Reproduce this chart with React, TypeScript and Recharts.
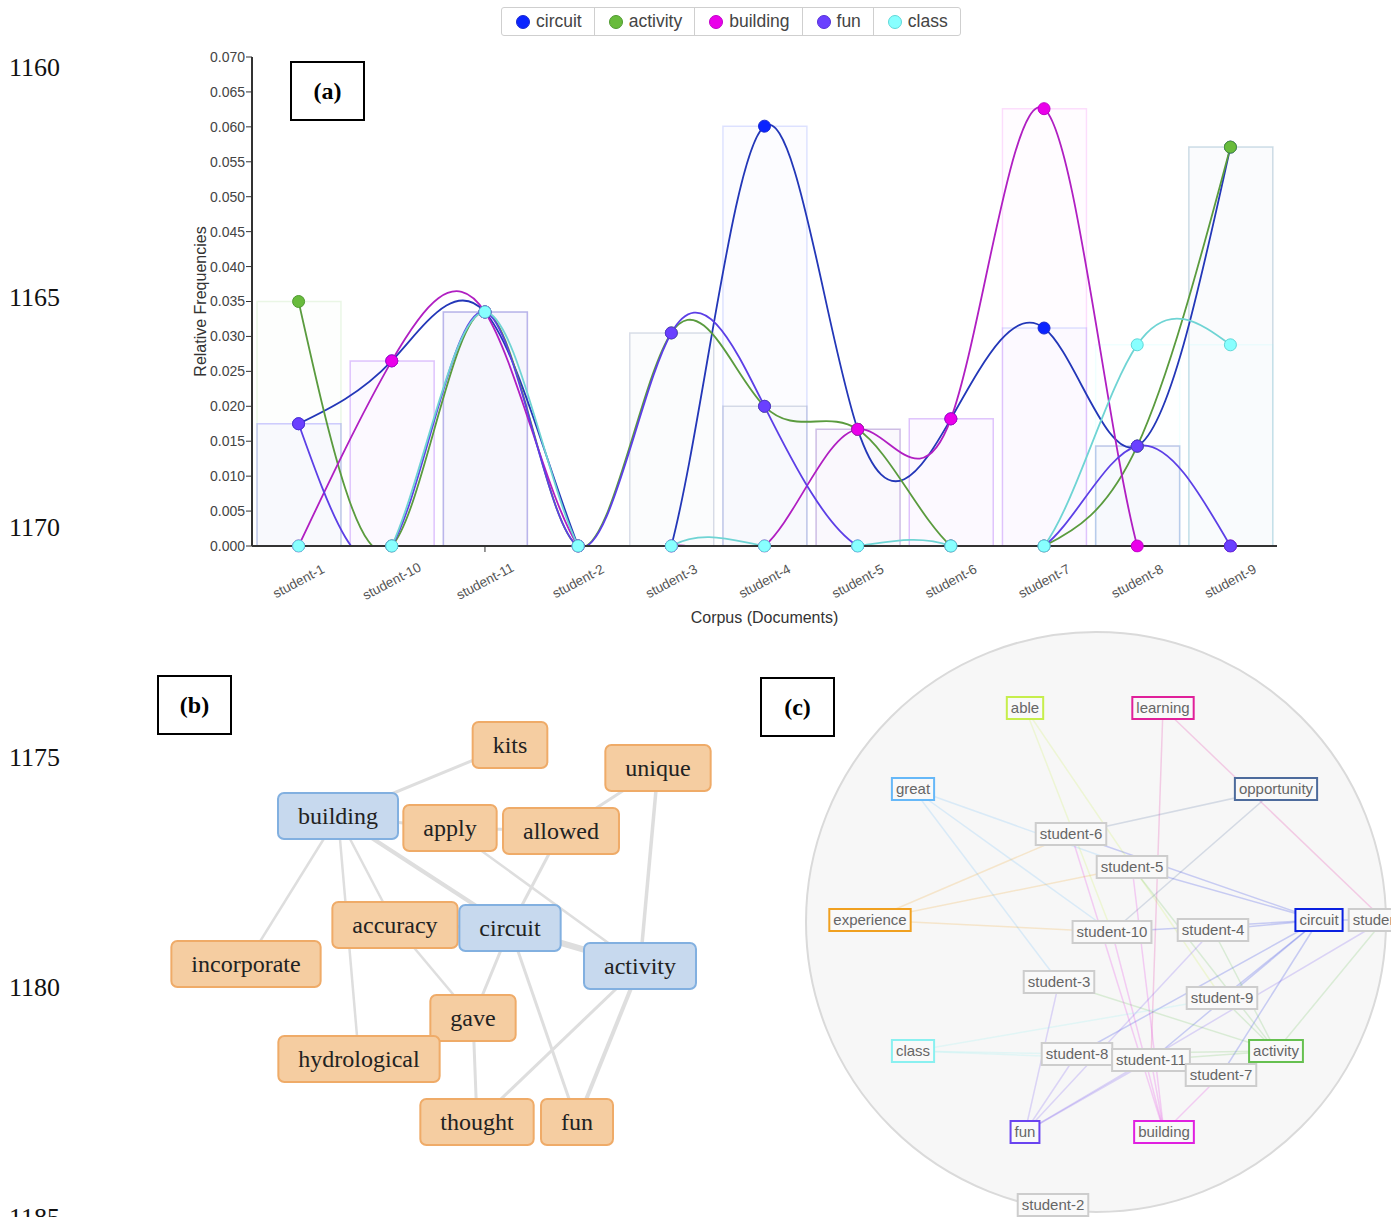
import React from "react";
import {
  ComposedChart,
  Bar,
  Line,
  XAxis,
  YAxis,
  ScatterChart,
  Scatter,
} from "recharts";

// ---- (a) relative frequencies per document ----
const documents = [
  "student-1", "student-10", "student-11", "student-2", "student-3", "student-4",
  "student-5", "student-6", "student-7", "student-8", "student-9",
];
const circuitFreq = [0.0175, 0.0265, 0.0335, 0, 0, 0.0601, 0.0167, 0.0182, 0.0312, 0.0143, 0.0571];
const activityFreq = [0.035, 0, 0.0335, 0, 0.0305, 0.02, 0.0167, 0, 0, 0.0143, 0.0571];
const buildingFreq = [0, 0.0265, 0.0335, 0, 0, 0, 0.0167, 0.0182, 0.0626, 0, 0];
const funFreq = [0.0175, 0, 0.0335, 0, 0.0305, 0.02, 0, 0, 0, 0.0143, 0];
const classFreq = [0, 0, 0.0335, 0, 0, 0, 0, 0, 0, 0.0288, 0.0288];
const freqTicks = [0, 0.005, 0.01, 0.015, 0.02, 0.025, 0.03, 0.035, 0.04, 0.045, 0.05, 0.055, 0.06, 0.065, 0.07];

const seriesKeys = ["circuit", "activity", "building", "fun", "class"];
const dotColors = ["#0a24ff", "#68bb3c", "#ea00ea", "#6a40ff", "#88ffff"];
const dotStrokes = ["#1a2ad0", "#4f9a30", "#c000c8", "#5530d8", "#5fd8d8"];
const lineColors = ["#2337b8", "#5a9b3e", "#b01fc2", "#5c3fe6", "#6fd4d4"];

const chartData = documents.map((doc, i) => ({
  doc,
  circuit: circuitFreq[i],
  activity: activityFreq[i],
  building: buildingFreq[i],
  fun: funFreq[i],
  class: classFreq[i],
}));

// ---- (b) word graph (layout units inside the panel) ----
const wordNodes = [
  { word: "kits", group: "context", x: 360, y: 45 },
  { word: "unique", group: "context", x: 508, y: 68 },
  { word: "building", group: "term", x: 188, y: 116 },
  { word: "apply", group: "context", x: 300, y: 128 },
  { word: "allowed", group: "context", x: 411, y: 131 },
  { word: "accuracy", group: "context", x: 245, y: 225 },
  { word: "circuit", group: "term", x: 360, y: 228 },
  { word: "activity", group: "term", x: 490, y: 266 },
  { word: "incorporate", group: "context", x: 96, y: 264 },
  { word: "gave", group: "context", x: 323, y: 318 },
  { word: "hydrological", group: "context", x: 209, y: 359 },
  { word: "thought", group: "context", x: 327, y: 422 },
  { word: "fun", group: "context", x: 427, y: 422 },
];
const wordLinks: [string, string, number][] = [
  ["building", "kits", 3],
  ["building", "apply", 3],
  ["apply", "allowed", 3],
  ["allowed", "unique", 3],
  ["unique", "activity", 3.5],
  ["building", "incorporate", 2.5],
  ["building", "hydrological", 2.5],
  ["building", "accuracy", 2.5],
  ["building", "circuit", 4],
  ["apply", "activity", 2.5],
  ["allowed", "circuit", 3],
  ["accuracy", "circuit", 3],
  ["circuit", "activity", 6],
  ["accuracy", "gave", 2.5],
  ["circuit", "gave", 3],
  ["circuit", "fun", 3],
  ["activity", "thought", 3],
  ["activity", "fun", 4],
  ["gave", "thought", 3],
];

// ---- (c) document / term graph (layout units inside the panel) ----
const graphNodes = [
  { id: "able", kind: "term", x: 235, y: 88 },
  { id: "learning", kind: "term", x: 373, y: 88 },
  { id: "great", kind: "term", x: 123, y: 169 },
  { id: "opportunity", kind: "term", x: 486, y: 169 },
  { id: "student-6", kind: "doc", x: 281, y: 214 },
  { id: "student-5", kind: "doc", x: 342, y: 247 },
  { id: "experience", kind: "term", x: 80, y: 300 },
  { id: "student-10", kind: "doc", x: 322, y: 312 },
  { id: "student-4", kind: "doc", x: 423, y: 310 },
  { id: "circuit", kind: "term", x: 529, y: 300 },
  { id: "student-1", kind: "doc", x: 594, y: 300 },
  { id: "student-3", kind: "doc", x: 269, y: 362 },
  { id: "student-9", kind: "doc", x: 432, y: 378 },
  { id: "class", kind: "term", x: 123, y: 431 },
  { id: "student-8", kind: "doc", x: 287, y: 434 },
  { id: "student-11", kind: "doc", x: 361, y: 440 },
  { id: "activity", kind: "term", x: 486, y: 431 },
  { id: "student-7", kind: "doc", x: 431, y: 455 },
  { id: "fun", kind: "term", x: 235, y: 512 },
  { id: "building", kind: "term", x: 374, y: 512 },
  { id: "student-2", kind: "doc", x: 263, y: 585 },
];
const termColors: Record<string, string> = {
  able: "#c6ee4c",
  learning: "#e0209a",
  great: "#66b8f8",
  opportunity: "#4d6b9c",
  experience: "#f0a020",
  circuit: "#0a20e0",
  class: "#8af0f0",
  activity: "#66c050",
  fun: "#6a44f0",
  building: "#e020e0",
};
const graphLinks: [string, string][] = [
  ["able", "student-10"], ["able", "student-9"],
  ["learning", "student-11"], ["learning", "student-1"],
  ["great", "student-5"], ["great", "student-10"], ["great", "student-3"],
  ["opportunity", "student-6"], ["opportunity", "student-10"],
  ["experience", "student-6"], ["experience", "student-5"], ["experience", "student-10"],
  ["circuit", "student-1"], ["circuit", "student-10"], ["circuit", "student-11"], ["circuit", "student-4"],
  ["circuit", "student-5"], ["circuit", "student-6"], ["circuit", "student-7"], ["circuit", "student-8"],
  ["circuit", "student-9"],
  ["activity", "student-1"], ["activity", "student-11"], ["activity", "student-3"], ["activity", "student-4"],
  ["activity", "student-5"], ["activity", "student-8"], ["activity", "student-9"],
  ["building", "student-10"], ["building", "student-11"], ["building", "student-5"], ["building", "student-6"],
  ["building", "student-7"],
  ["fun", "student-1"], ["fun", "student-11"], ["fun", "student-3"], ["fun", "student-4"], ["fun", "student-8"],
  ["class", "student-11"], ["class", "student-8"], ["class", "student-9"],
];

const lineNumbers = ["1160", "1165", "1170", "1175", "1180", "1185"];

const SANS = '"Liberation Sans", Arial, sans-serif';
const SERIF = '"Liberation Serif", "Times New Roman", serif';

let measureCtx: CanvasRenderingContext2D | null = null;
function textWidth(s: string, font: string) {
  if (!measureCtx) measureCtx = document.createElement("canvas").getContext("2d");
  if (!measureCtx) return s.length * 10;
  measureCtx.font = font;
  return measureCtx.measureText(s).width;
}

function DocTick(props: any) {
  const { x, y, payload } = props;
  return (
    <g transform={`translate(${x},${y + 27}) rotate(-28)`}>
      <text textAnchor="middle" dy="0.35em" fontSize={13.5} fill="#555" fontFamily={SANS}>
        {payload.value}
      </text>
    </g>
  );
}

function WordNode(props: any) {
  const { cx, cy, payload } = props;
  const w = textWidth(payload.word, `24px ${SERIF}`) + 40;
  const h = 46;
  const term = payload.group === "term";
  return (
    <g>
      <rect
        x={cx - w / 2}
        y={cy - h / 2}
        width={w}
        height={h}
        rx={6}
        fill={term ? "#c7d9ee" : "#f5cda1"}
        stroke={term ? "#82b0e0" : "#efab68"}
        strokeWidth={2}
      />
      <text x={cx} y={cy} dy="0.33em" textAnchor="middle" fontSize={24} fontFamily={SERIF} fill="#222">
        {payload.word}
      </text>
    </g>
  );
}

function GraphNode(props: any) {
  const { cx, cy, payload } = props;
  const w = textWidth(payload.id, `15px ${SANS}`) + 8;
  const h = 22;
  const color = payload.kind === "term" ? termColors[payload.id] : "#cdcdcd";
  return (
    <g>
      <rect x={cx - w / 2} y={cy - h / 2} width={w} height={h} fill="#f9f9f9" stroke={color} strokeWidth={2} />
      <text x={cx} y={cy} dy="0.36em" textAnchor="middle" fontSize={15} fontFamily={SANS} fill="#666">
        {payload.id}
      </text>
    </g>
  );
}

function Hidden() {
  return <g />;
}

function FrequencyChart() {
  return (
    <ComposedChart
      width={1397}
      height={640}
      data={chartData}
      margin={{ top: 57, right: 120, bottom: 14, left: 192 }}
      barGap={-84}
      barSize={84}
    >
      <XAxis
        dataKey="doc"
        height={80}
        interval={0}
        axisLine={{ stroke: "#333", strokeWidth: 2 }}
        tickLine={{ stroke: "#333" }}
        tickSize={6}
        tick={<DocTick />}
        label={{
          value: "Corpus (Documents)",
          position: "insideBottom",
          offset: 3,
          style: { fontSize: 16, fill: "#333", fontFamily: SANS },
        }}
      />
      <YAxis
        width={60}
        domain={[0, 0.07]}
        allowDataOverflow
        ticks={freqTicks}
        interval={0}
        tickFormatter={(v: number) => v.toFixed(3)}
        axisLine={{ stroke: "#333", strokeWidth: 2 }}
        tickLine={{ stroke: "#333" }}
        tickSize={6}
        tickMargin={1}
        tick={{ fontSize: 14, fill: "#444", fontFamily: SANS }}
        label={{
          value: "Relative Frequencies",
          angle: -90,
          position: "insideLeft",
          offset: 8,
          style: { textAnchor: "middle", fontSize: 16, fill: "#333", fontFamily: SANS },
        }}
      />
      {seriesKeys.map((key, i) => (
        <Bar
          key={`bar-${key}`}
          dataKey={key}
          fill={dotColors[i]}
          fillOpacity={0.012}
          stroke={dotColors[i]}
          strokeOpacity={0.13}
          strokeWidth={1.5}
          isAnimationActive={false}
        />
      ))}
      {seriesKeys.map((key, i) => (
        <Line
          key={`line-${key}`}
          type="natural"
          dataKey={key}
          stroke={lineColors[i]}
          strokeWidth={1.8}
          dot={{ r: 6, fill: dotColors[i], stroke: dotStrokes[i], strokeWidth: 1, fillOpacity: 1, clipDot: false }}
          activeDot={false}
          isAnimationActive={false}
        />
      ))}
    </ComposedChart>
  );
}

function WordGraph() {
  const byWord: Record<string, { x: number; y: number }> = {};
  wordNodes.forEach((n) => (byWord[n.word] = n));
  return (
    <ScatterChart width={580} height={470} margin={{ top: 0, right: 0, bottom: 0, left: 0 }}>
      <XAxis type="number" dataKey="x" domain={[0, 580]} hide />
      <YAxis type="number" dataKey="y" domain={[0, 470]} reversed hide />
      {wordLinks.map(([a, b, w]) => (
        <Scatter
          key={`${a}-${b}`}
          data={[byWord[a], byWord[b]]}
          fill="#dedede"
          line={{ stroke: "#dedede", strokeWidth: w }}
          shape={<Hidden />}
          isAnimationActive={false}
        />
      ))}
      <Scatter data={wordNodes} shape={<WordNode />} isAnimationActive={false} />
    </ScatterChart>
  );
}

function DocGraph() {
  const byId: Record<string, { x: number; y: number }> = {};
  graphNodes.forEach((n) => (byId[n.id] = n));
  return (
    <ScatterChart width={601} height={597} margin={{ top: 0, right: 0, bottom: 0, left: 0 }}>
      <XAxis type="number" dataKey="x" domain={[0, 601]} hide />
      <YAxis type="number" dataKey="y" domain={[0, 597]} reversed hide />
      <Scatter
        data={[{ x: 306, y: 302 }]}
        shape={(p: any) => <circle cx={p.cx} cy={p.cy} r={290} fill="#f7f7f7" stroke="#dadada" strokeWidth={2} />}
        isAnimationActive={false}
      />
      {graphLinks.map(([a, b]) => (
        <Scatter
          key={`${a}-${b}`}
          data={[byId[a], byId[b]]}
          fill={termColors[a]}
          line={{ stroke: termColors[a], strokeWidth: 1.5, strokeOpacity: 0.2 }}
          shape={<Hidden />}
          isAnimationActive={false}
        />
      ))}
      <Scatter data={graphNodes} shape={<GraphNode />} isAnimationActive={false} />
    </ScatterChart>
  );
}

function Legend() {
  return (
    <div
      style={{
        position: "absolute",
        left: 501,
        top: 7,
        height: 27,
        display: "flex",
        border: "1px solid #cfcfcf",
        borderRadius: 3,
        fontFamily: SANS,
        fontSize: 17.5,
        color: "#444",
        background: "#fff",
      }}
    >
      {seriesKeys.map((key, i) => (
        <div
          key={key}
          style={{
            display: "flex",
            alignItems: "center",
            padding: "0 12px 0 14px",
            borderLeft: i ? "1px solid #cfcfcf" : "none",
          }}
        >
          <span
            style={{
              width: 14,
              height: 14,
              borderRadius: 7,
              background: dotColors[i],
              boxSizing: "border-box",
              border: `1px solid ${dotStrokes[i]}`,
              marginRight: 6,
            }}
          />
          {key}
        </div>
      ))}
    </div>
  );
}

function PanelTag({ left, top, text }: { left: number; top: number; text: string }) {
  return (
    <div
      style={{
        position: "absolute",
        left,
        top,
        width: 71,
        height: 56,
        border: "2px solid #000",
        display: "flex",
        alignItems: "center",
        justifyContent: "center",
        fontFamily: SERIF,
        fontWeight: "bold",
        fontSize: 24,
        background: "#fff",
      }}
    >
      {text}
    </div>
  );
}

export default function App() {
  return (
    <div style={{ position: "absolute", left: 0, top: 0, width: 1397, height: 1217, overflow: "hidden", background: "#fff" }}>
      <svg style={{ position: "absolute", left: 0, top: 0 }} width={80} height={1217}>
        {lineNumbers.map((n, i) => (
          <text key={n} x={9} y={76 + i * 230} fontFamily={SERIF} fontSize={26} fill="#111">
            {n}
          </text>
        ))}
      </svg>
      <div style={{ position: "absolute", left: 0, top: 0 }}>
        <FrequencyChart />
      </div>
      <Legend />
      <div style={{ position: "absolute", left: 150, top: 700 }}>
        <WordGraph />
      </div>
      <div style={{ position: "absolute", left: 790, top: 620, width: 601, height: 597, overflow: "hidden" }}>
        <DocGraph />
      </div>
      <PanelTag left={290} top={61} text="(a)" />
      <PanelTag left={157} top={675} text="(b)" />
      <PanelTag left={760} top={677} text="(c)" />
    </div>
  );
}
